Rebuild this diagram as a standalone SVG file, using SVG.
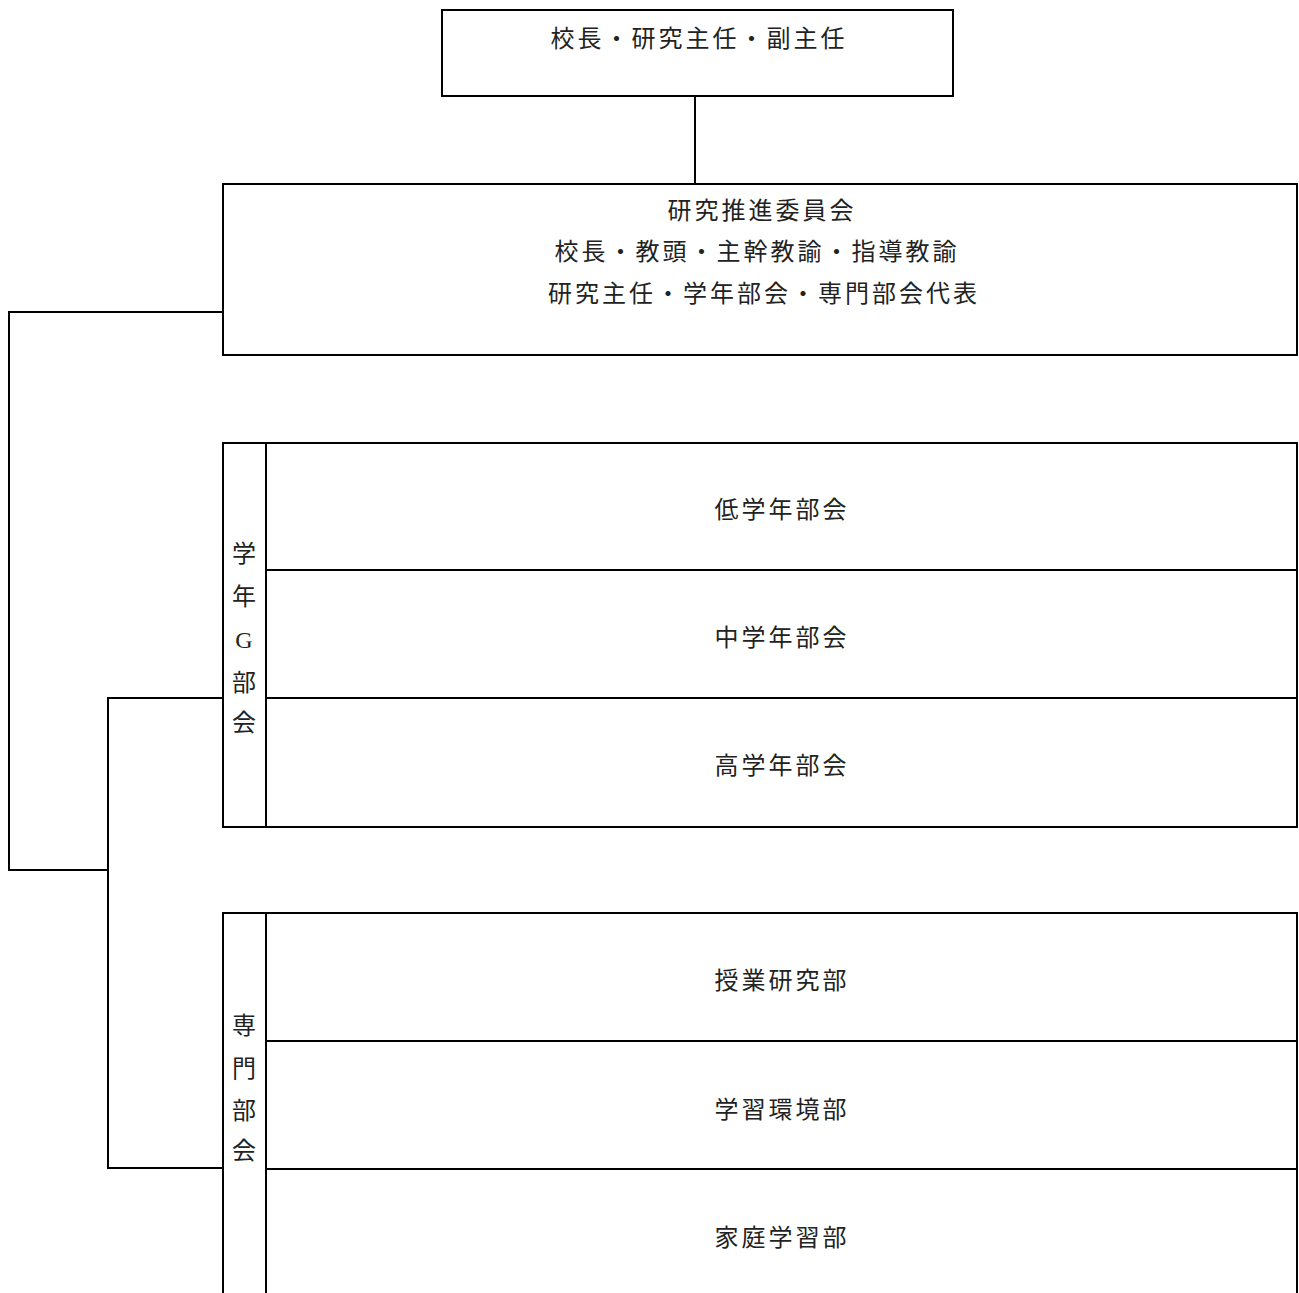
<svg xmlns="http://www.w3.org/2000/svg" width="1299" height="1293" viewBox="0 0 1299 1293">
<style>
.b{fill:#fff;stroke:#000;stroke-width:2}
.l{fill:none;stroke:#000;stroke-width:2}
.t{font-family:"Liberation Serif","Noto Sans CJK JP",serif;font-size:24px;fill:#222;text-anchor:middle;letter-spacing:3px}
.v{font-family:"Liberation Serif","Noto Sans CJK JP",serif;font-size:24px;fill:#222;text-anchor:middle}
</style>
<rect width="1299" height="1293" fill="#fff"/>
<g id="connectors">
<line class="l" x1="695" y1="96" x2="695" y2="184"/>
<polyline class="l" points="223,312 9,312 9,870 108,870"/>
<polyline class="l" points="223,698 108,698 108,1168 223,1168"/>
</g>
<g id="top">
<rect class="b" x="442" y="10" width="511" height="86"/>
<text class="t" x="699" y="47">校長・研究主任・副主任</text>
</g>
<g id="committee">
<rect class="b" x="223" y="184" width="1074" height="171"/>
<text class="t" x="762" y="219">研究推進委員会</text>
<text class="t" x="757" y="260">校長・教頭・主幹教諭・指導教諭</text>
<text class="t" x="764" y="302">研究主任・学年部会・専門部会代表</text>
</g>
<g id="grade-group">
<rect class="b" x="223" y="443" width="1074" height="384"/>
<line class="l" x1="266" y1="443" x2="266" y2="827"/>
<line class="l" x1="266" y1="570" x2="1297" y2="570"/>
<line class="l" x1="266" y1="698" x2="1297" y2="698"/>
<text class="v" x="244" y="562">学</text>
<text class="v" x="244" y="605">年</text>
<text class="v" x="244" y="648">G</text>
<text class="v" x="244" y="691">部</text>
<text class="v" x="244" y="731">会</text>
</g>
<g id="low"><text class="t" x="782" y="518">低学年部会</text></g>
<g id="mid"><text class="t" x="782" y="646">中学年部会</text></g>
<g id="high"><text class="t" x="782" y="774">高学年部会</text></g>
<g id="special-group">
<polyline class="l" points="223,1300 223,913 1297,913 1297,1300"/>
<line class="l" x1="266" y1="913" x2="266" y2="1300"/>
<line class="l" x1="266" y1="1041" x2="1297" y2="1041"/>
<line class="l" x1="266" y1="1169" x2="1297" y2="1169"/>
<text class="v" x="244" y="1034">専</text>
<text class="v" x="244" y="1077">門</text>
<text class="v" x="244" y="1119">部</text>
<text class="v" x="244" y="1159">会</text>
</g>
<g id="lesson"><text class="t" x="782" y="989">授業研究部</text></g>
<g id="environment"><text class="t" x="782" y="1118">学習環境部</text></g>
<g id="home"><text class="t" x="782" y="1246">家庭学習部</text></g>
</svg>
